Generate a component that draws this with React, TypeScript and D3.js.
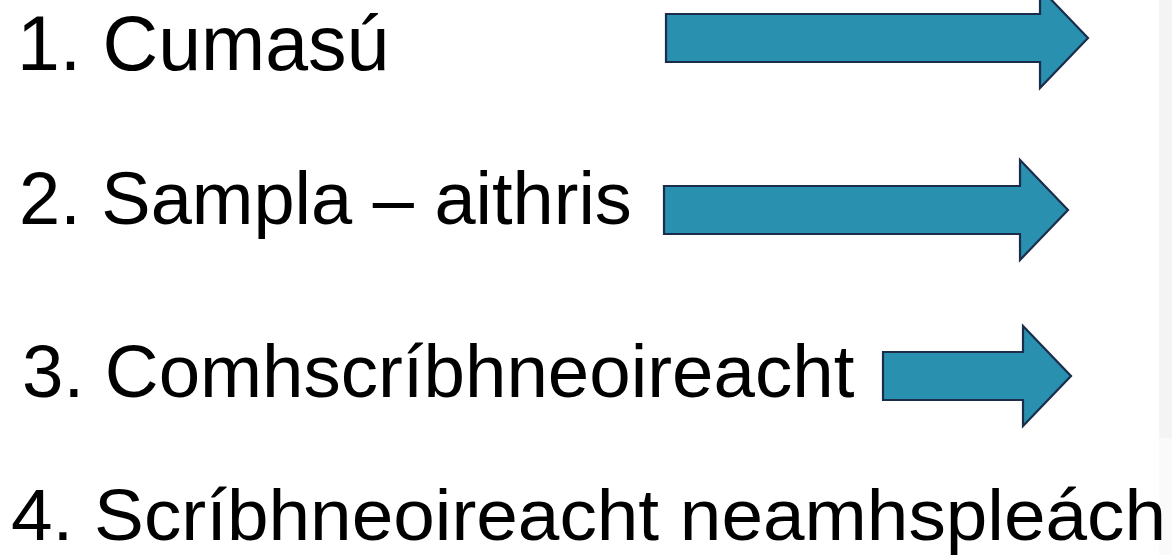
import React, { useEffect, useRef } from "react";
import * as d3 from "d3";

// slide content
const steps = [
  "1. Cumasú",
  "2. Sampla – aithris",
  "3. Comhscríbhneoireacht",
  "4. Scríbhneoireacht neamhspleách",
];
// arrows (slide units, 0..1172 across, 0..555 down)
const arrowFrom = [666, 664, 883];
const arrowTo = [1088, 1068, 1071];
const arrowMid = [38, 210, 376];
// text baselines and sizes
const textBase = [70, 224, 397, 540];
const textLeft = [17, 19, 22, 11];
const textSize = [77, 74, 74.5, 72];

export default function App() {
  const ref = useRef<SVGSVGElement>(null);

  useEffect(() => {
    document.body.style.margin = "0";
    const width = 1172;
    const height = 555;
    const svg = d3.select(ref.current);
    svg.selectAll("*").remove();

    const x = d3.scaleLinear().domain([0, 1172]).range([0, width]);
    const y = d3.scaleLinear().domain([0, 555]).range([0, height]);

    svg.append("rect").attr("width", width).attr("height", height).attr("fill", "#ffffff");
    // grey strip on the right edge
    svg
      .append("rect")
      .attr("x", x(1159))
      .attr("y", 0)
      .attr("width", width - x(1159))
      .attr("height", y(438))
      .attr("fill", "#f4f4f4");
    svg
      .append("rect")
      .attr("x", x(1159))
      .attr("y", y(438))
      .attr("width", width - x(1159))
      .attr("height", height - y(438))
      .attr("fill", "#fafafa");

    const shaft = 24;
    const head = 50;
    const headLen = 48;
    const line = d3.line<[number, number]>();

    svg
      .selectAll("path.arrow")
      .data(arrowMid)
      .enter()
      .append("path")
      .attr("class", "arrow")
      .attr("d", (m, i) => {
        const x0 = x(arrowFrom[i]);
        const x2 = x(arrowTo[i]);
        const x1 = x2 - headLen;
        const c = y(m);
        return (
          line([
            [x0, c - shaft],
            [x1, c - shaft],
            [x1, c - head],
            [x2, c],
            [x1, c + head],
            [x1, c + shaft],
            [x0, c + shaft],
          ]) + "Z"
        );
      })
      .attr("fill", "#2990b0")
      .attr("stroke", "#1b2d4b")
      .attr("stroke-width", 2.2)
      .attr("stroke-linejoin", "miter");

    svg
      .selectAll("text.step")
      .data(steps)
      .enter()
      .append("text")
      .attr("class", "step")
      .attr("x", (d, i) => x(textLeft[i]))
      .attr("y", (d, i) => y(textBase[i]))
      .attr("font-family", "'Liberation Sans', Arial, sans-serif")
      .attr("font-size", (d, i) => textSize[i])
      .attr("fill", "#000")
      .each(function (d, i) {
        if (i === 3) {
          d3.select(this).attr("textLength", 1155).attr("lengthAdjust", "spacingAndGlyphs");
        }
      })
      .text((d) => d);
  }, []);

  return <svg ref={ref} width={1172} height={555} style={{ display: "block" }} />;
}
